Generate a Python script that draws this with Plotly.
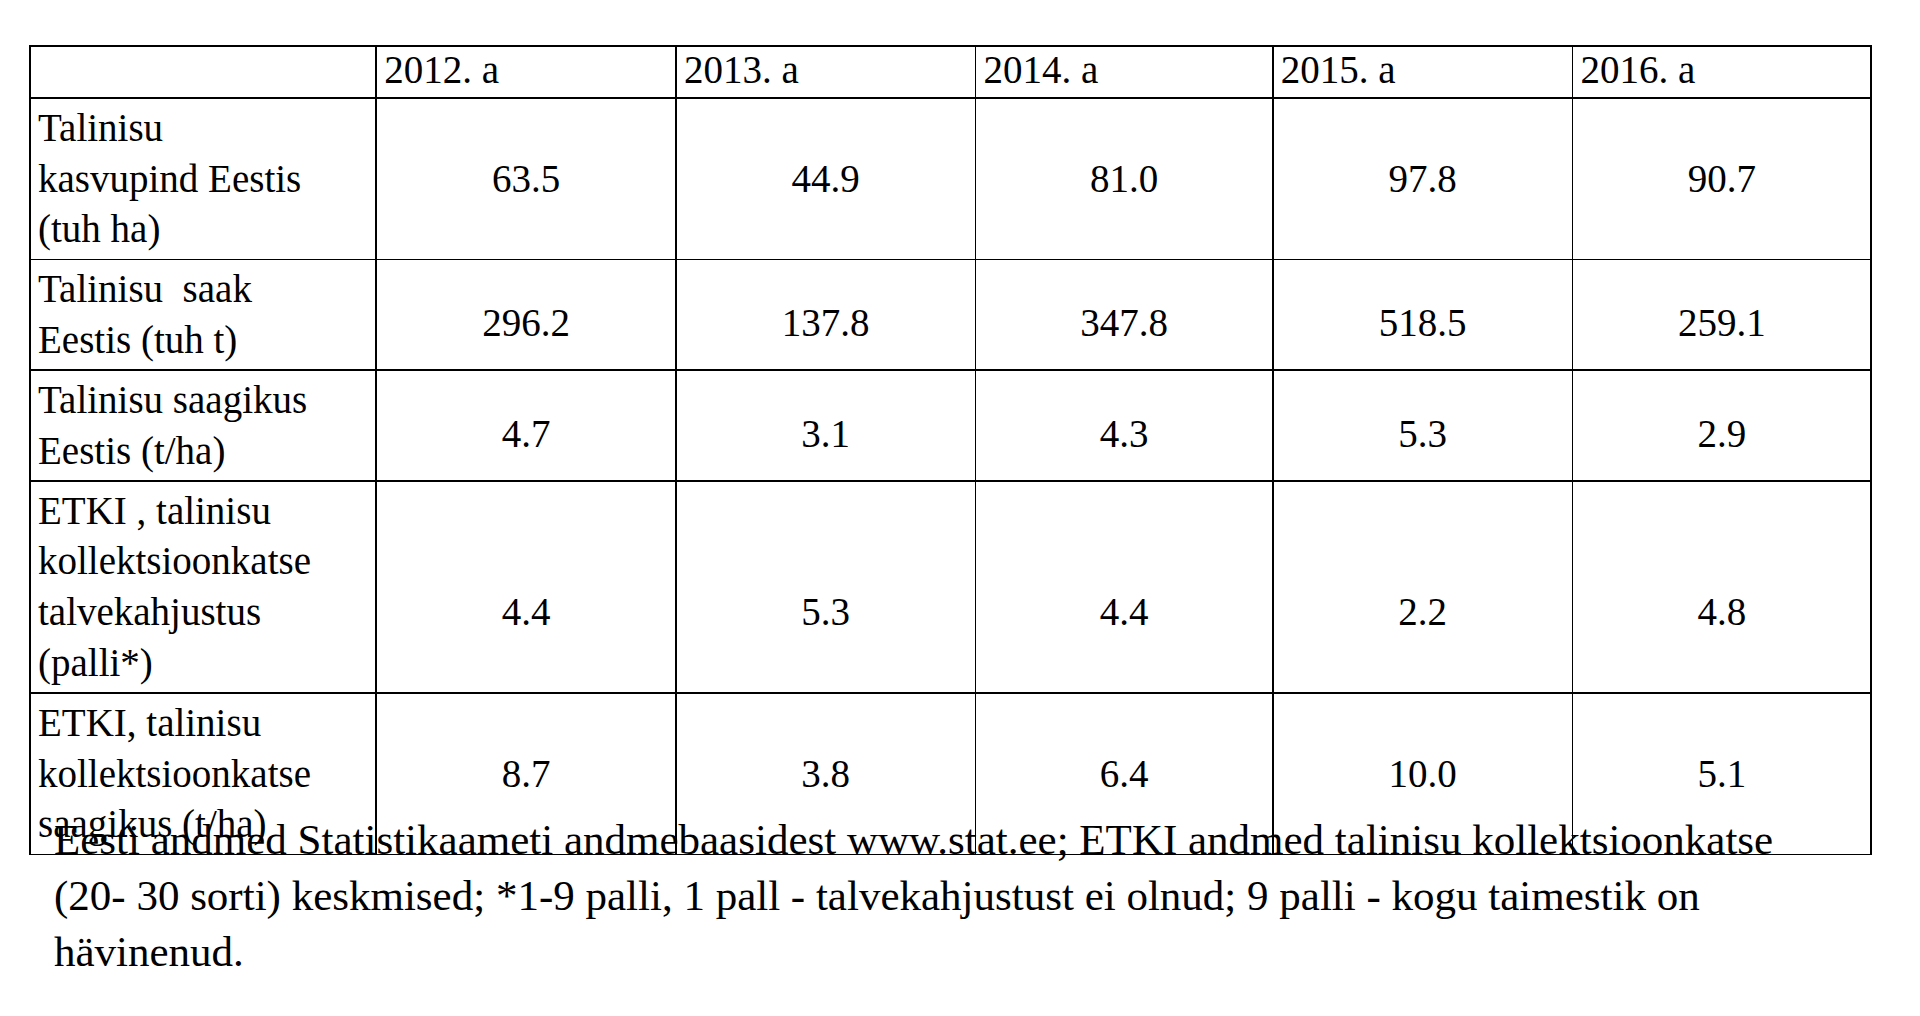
import plotly.graph_objects as go

years = ["2012. a", "2013. a", "2014. a", "2015. a", "2016. a"]
row_labels = [
    "Talinisu<br>kasvupind Eestis<br>(tuh ha)",
    "Talinisu  saak<br>Eestis (tuh t)",
    "Talinisu saagikus<br>Eestis (t/ha)",
    "ETKI , talinisu<br>kollektsioonkatse<br>talvekahjustus<br>(palli*)",
    "ETKI, talinisu<br>kollektsioonkatse<br>saagikus (t/ha)",
]
area = [63.5, 44.9, 81.0, 97.8, 90.7]
harvest = [296.2, 137.8, 347.8, 518.5, 259.1]
yield_ee = [4.7, 3.1, 4.3, 5.3, 2.9]
winter_damage = [4.4, 5.3, 4.4, 2.2, 4.8]
yield_etki = [8.7, 3.8, 6.4, 10.0, 5.1]
footnote = ("Eesti andmed Statistikaameti andmebaasidest www.stat.ee; ETKI andmed talinisu kollektsioonkatse<br>"
            "(20- 30 sorti) keskmised; *1-9 palli, 1 pall - talvekahjustust ei olnud; 9 palli - kogu taimestik on<br>"
            "hävinenud.")

rows = [area, harvest, yield_ee, winter_damage, yield_etki]
half = "<span style='font-size:20px'>\u00a0</span><br>"
prefix = ["\u00a0<br>", half, half, "\u00a0<br>" + half, "\u00a0<br>"]
cols = [row_labels]
for j in range(len(years)):
    cols.append([prefix[i] + f"{rows[i][j]:.1f}" for i in range(len(rows))])

FONT = "Liberation Serif"
fig = go.Figure(go.Table(
    columnwidth=[283, 245, 245, 243, 245, 244],
    header=dict(values=[""] + years, align="left", height=52,
                line=dict(color="black", width=1.5), fill=dict(color="white"),
                font=dict(family=FONT, size=39, color="black")),
    cells=dict(values=cols, align=["left"] + ["center"] * 5, height=51,
               line=dict(color="black", width=1.5), fill=dict(color="white"),
               font=dict(family=FONT, size=39, color="black")),
    domain=dict(x=[0, 1], y=[0, 1]),
))
fig.add_annotation(text=footnote, xref="paper", yref="paper", x=0.012, y=0.215,
                   xanchor="left", yanchor="top", align="left", showarrow=False,
                   font=dict(family=FONT, size=43, color="black"))
fig.update_layout(width=1920, height=1016, paper_bgcolor="white",
                  margin=dict(l=22, r=57, t=38, b=0))
fig.write_html("out.html")
